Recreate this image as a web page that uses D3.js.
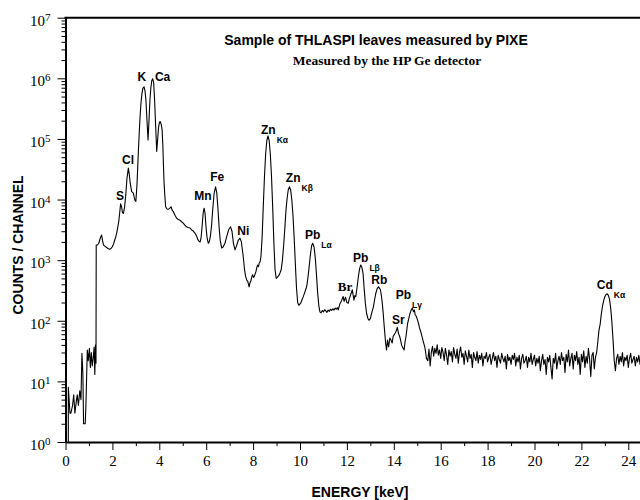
<!DOCTYPE html>
<html>
<head>
<meta charset="utf-8">
<title>THLASPI PIXE spectrum</title>
<script src="https://cdn.jsdelivr.net/npm/d3@7"></script>
<style>
  body { margin: 0; background: #fff; }
  .axis path, .axis line { stroke: #000; }
</style>
</head>
<body>
<svg id="chart" width="640" height="500"></svg>
<script>
// spectrum: [energy keV, counts per channel]
var lowEnergy = [
  [0.12,1],[0.12,8],[0.19,3],[0.23,3],[0.30,4],[0.35,6],[0.40,3],[0.47,5],[0.50,6],[0.55,4],
  [0.61,7],[0.66,5],[0.70,29],[0.74,14],[0.77,2],[0.84,2],[0.87,4],[0.93,33],[0.97,22],[1.02,35],
  [1.06,17],[1.10,30],[1.14,18],[1.18,24],[1.22,37],[1.25,13],[1.28,40],[1.30,20]
];
var mainPeaks = [
  [1.31,1780],[1.36,1780],[1.42,1900],[1.48,2300],[1.54,2600],[1.58,2100],[1.62,1780],[1.68,1700],
  [1.74,1630],[1.81,1560],[1.88,1520],[1.94,1560],[1.99,1650],[2.05,1850],[2.10,2150],[2.14,2400],
  [2.18,2760],[2.23,3500],[2.27,4330],[2.31,6000],[2.35,8500],[2.39,7600],[2.43,6100],[2.47,5900],
  [2.52,7500],[2.57,12000],[2.62,22000],[2.68,33000],[2.72,26000],[2.76,18600],[2.82,13500],[2.89,12900],
  [2.93,11000],[2.96,9800],[3.00,9300],[3.05,18000],[3.11,66000],[3.15,140000],[3.18,234000],[3.22,400000],
  [3.26,560000],[3.30,690000],[3.35,725000],[3.39,620000],[3.43,436000],[3.47,220000],[3.52,96000],[3.56,200000],
  [3.60,436000],[3.64,700000],[3.68,920000],[3.72,980000],[3.76,850000],[3.80,436000],[3.84,180000],[3.89,62000],
  [3.93,100000],[3.97,158000],[4.01,190000],[4.04,193000],[4.08,175000],[4.12,141000],[4.15,80000],[4.17,45000],
  [4.20,20000],[4.23,12600],[4.27,7600],[4.33,7000],[4.39,6900],[4.45,7200],[4.50,7600],[4.55,6700],
  [4.60,6300],[4.67,5500],[4.74,4900],[4.81,4700],[4.88,4570],[4.95,4300],[5.02,4070],[5.09,3800],
  [5.16,3550],[5.23,3450],[5.31,3390],[5.38,3150],[5.45,3020],[5.52,2800],[5.59,2500],[5.64,2200],
  [5.69,2050],[5.74,2000],[5.78,2300],[5.83,3800],[5.87,6000],[5.91,7200],[5.95,6000],[5.99,3600],
  [6.04,2300],[6.09,1900],[6.13,2000],[6.18,2500],[6.23,3800],[6.28,7000],[6.34,12800],[6.40,16200],
  [6.45,13000],[6.50,7200],[6.55,3500],[6.60,2100],[6.66,1585],[6.72,1650],[6.80,1900],[6.88,2500],
  [6.96,3200],[7.04,3550],[7.10,3000],[7.16,1900],[7.23,1480],[7.30,1750],[7.37,2150],[7.44,2300],
  [7.50,2000],[7.54,1500],[7.58,1150],[7.63,720],[7.68,540],[7.73,470],[7.77,450],[7.83,363],
  [7.87,430],[7.90,447],[7.95,540],[7.98,575],[8.02,520],[8.05,537],[8.09,600],[8.12,646],
  [8.16,760],[8.19,830],[8.23,780],[8.26,890],[8.30,950],[8.335,1150],[8.385,2400],[8.435,7900],
  [8.485,24000],[8.535,56500],[8.585,94000],[8.635,112000],[8.685,94000],[8.735,56000],[8.785,24000],[8.835,7500],
  [8.885,2000],[8.935,700],[8.985,500],[9.03,520],[9.10,560],[9.15,620],[9.20,700],[9.25,1000],
  [9.30,1700],[9.35,3200],[9.40,6500],[9.45,10500],[9.50,14500],[9.55,16200],[9.60,14500],[9.65,10000],
  [9.70,5500],[9.75,2400],[9.80,900],[9.85,350],[9.90,200],[9.95,180],[10.03,195],[10.08,220],
  [10.14,250],[10.21,300],[10.26,340],[10.30,400],[10.35,560],[10.40,850],[10.45,1300],[10.50,1750],
  [10.54,1900],[10.60,1650],[10.65,1100],[10.70,600],[10.75,300],[10.80,180],[10.85,140],[10.90,135],
  [10.95,148],[11.00,140],[11.05,152],[11.10,145],[11.15,138],[11.20,150],[11.25,143],[11.30,155],
  [11.35,148],[11.40,158],[11.45,150],[11.50,162],[11.55,155],[11.60,165],[11.63,151],[11.70,190],
  [11.78,219],[11.84,251],[11.88,209],[11.94,245],[12.00,200],[12.06,195],[12.10,230],[12.16,269],
  [12.23,324],[12.30,219],[12.34,260],[12.38,251],[12.45,400],[12.49,537],[12.54,720],[12.59,832],
  [12.64,760],[12.69,600],[12.74,324],[12.79,190],[12.84,132],[12.90,108],[12.94,102],[13.00,108],
  [13.06,135],[13.13,170],[13.18,220],[13.23,282],[13.29,340],[13.35,363],[13.43,324],[13.47,260],
  [13.51,195],[13.55,130],[13.58,91],[13.62,60],[13.65,43],[13.69,33],[13.73,48],[13.78,37],
  [13.83,52],[13.88,48],[13.93,43],[13.97,55],[14.02,59],[14.09,66],[14.15,78],[14.20,62],
  [14.25,55],[14.29,48],[14.33,40],[14.37,37],[14.44,33],[14.48,45],[14.52,55],[14.59,91],
  [14.64,110],[14.69,132],[14.74,150],[14.79,162],[14.84,141],[14.88,150],[14.91,126],[14.96,118],
  [15.03,98],[15.10,76],[15.17,62],[15.24,48],[15.32,37],[15.36,30],[15.39,24]
];
var highEnergy = [
  [15.45,22],[15.50,34],[15.55,18],[15.60,30],[15.65,38],[15.70,26],[15.75,35],[15.80,29],[15.85,40],[15.90,27],
  [15.95,33],[16.00,24],[16.05,36],[16.10,30],[16.15,22],[16.20,35],[16.25,27],[16.30,19],[16.35,33],[16.40,26],
  [16.45,31],[16.50,21],[16.55,36],[16.60,28],[16.65,24],[16.70,34],[16.75,20],[16.80,30],[16.85,37],[16.90,25],
  [16.95,29],[17.00,19],[17.05,32],[17.10,26],[17.15,21],[17.20,33],[17.25,24],[17.30,28],[17.35,17],[17.40,30],
  [17.45,25],[17.50,22],[17.55,31],[17.60,20],[17.65,27],[17.70,23],[17.75,29],[17.80,18],[17.85,26],[17.90,24],
  [17.95,30],[18.00,21],[18.05,25],[18.10,28],[18.15,19],[18.20,24],[18.25,30],[18.30,22],[18.35,26],[18.40,17],
  [18.45,27],[18.50,23],[18.55,20],[18.60,29],[18.65,24],[18.70,21],[18.75,26],[18.80,16],[18.85,28],[18.90,22],
  [18.95,25],[19.00,19],[19.05,27],[19.10,23],[19.15,29],[19.20,18],[19.25,25],[19.30,21],[19.35,27],[19.40,16],
  [19.45,24],[19.50,28],[19.55,20],[19.60,22],[19.65,26],[19.70,17],[19.75,25],[19.80,21],[19.85,29],[19.90,19],
  [19.95,23],[20.00,27],[20.05,18],[20.10,24],[20.15,20],[20.20,26],[20.25,15],[20.30,22],[20.35,28],[20.40,19],
  [20.45,23],[20.50,13],[20.55,25],[20.60,21],[20.65,27],[20.70,17],[20.75,11],[20.80,24],[20.85,20],[20.90,29],
  [20.95,16],[21.00,22],[21.05,26],[21.10,19],[21.15,30],[21.20,22],[21.25,25],[21.30,14],[21.35,28],[21.40,21],
  [21.45,33],[21.50,18],[21.55,24],[21.60,29],[21.65,16],[21.70,27],[21.75,22],[21.80,31],[21.85,19],[21.90,25],
  [21.95,13],[22.00,28],[22.05,21],[22.10,32],[22.15,17],[22.20,26],[22.25,20],[22.30,35],[22.35,23],[22.40,12],
  [22.45,27],[22.50,30],[22.55,16],[22.60,25],
  [22.65,30],[22.70,45],[22.75,70],[22.80,88],[22.85,130],[22.90,175],[22.95,215],[23.00,250],[23.05,272],[23.10,278],
  [23.15,262],[23.20,225],[23.25,160],[23.30,95],[23.35,48],[23.40,22],[23.45,15],
  [23.50,24],[23.55,28],[23.60,19],[23.65,26],[23.70,21],[23.75,30],[23.80,18],[23.85,25],[23.90,22],[23.95,27],
  [24.00,17],[24.05,24],[24.10,29],[24.15,20],[24.20,23],[24.25,26],[24.30,18],[24.35,25],[24.40,21],[24.45,27],
  [24.50,19],[24.55,24],[24.60,22],[24.65,20]
];

var xMajorTicks = [0, 2, 4, 6, 8, 10, 12, 14, 16, 18, 20, 22, 24];
var xMinorTicks = [1, 3, 5, 7, 9, 11, 13, 15, 17, 19, 21, 23];
var yExponents = [0, 1, 2, 3, 4, 5, 6, 7];

// peak labels: element, line subscript, energy and count where the label sits
var labelNames  = ["S", "Cl", "K", "Ca", "Mn", "Fe", "Ni", "Zn", "Zn", "Pb", "Br", "Pb", "Rb", "Sr", "Pb", "Cd"];
var labelSubs   = ["", "", "", "", "", "", "", "Kα", "Kβ", "Lα", "", "Lβ", "", "", "Lγ", "Kα"];
var labelEnergy = [2.32, 2.67, 3.25, 4.14, 5.86, 6.47, 7.58, 8.65, 9.71, 10.54, 11.92, 12.59, 13.38, 14.19, 14.41, 23.0];
var labelCounts = [9700, 38000, 890000, 890000, 10000, 20300, 2600, 122000, 19600, 2200, 310, 940, 410, 89, 225, 330];

var titleText = "Sample of THLASPI leaves measured by PIXE";
var subtitleText = "Measured by the HP Ge detector";
var xTitle = "ENERGY [keV]";
var yTitle = "COUNTS / CHANNEL";

var spectrum = lowEnergy.concat(mainPeaks, highEnergy);

var sans = "'Liberation Sans', Arial, sans-serif";
var serif = "'Liberation Serif', 'Times New Roman', serif";

var plotLeft = 65.5, plotTop = 17.7, plotBottom = 442, plotRight = 651.75;

var svg = d3.select("#chart");
var x = d3.scaleLinear().domain([0, 25]).range([plotLeft, plotRight]);
var y = d3.scaleLog().domain([1, 1e7]).range([plotBottom, plotTop]);

svg.append("defs").append("clipPath").attr("id", "plotclip")
   .append("rect").attr("x", plotLeft).attr("y", plotTop)
   .attr("width", plotRight - plotLeft).attr("height", plotBottom - plotTop);

// minor ticks first, then major axes on top
var yMinor = [];
yExponents.slice(0, -1).forEach(function(e) {
    for (var m = 2; m <= 9; m++) yMinor.push(m * Math.pow(10, e));
});

svg.append("g").attr("class", "axis").attr("transform", "translate(" + plotLeft + ",0)")
   .call(d3.axisLeft(y).tickValues(yMinor).tickSize(4).tickSizeOuter(0).tickFormat(""))
   .call(function(g) { g.select(".domain").remove(); });

svg.append("g").attr("class", "axis").attr("transform", "translate(0," + plotBottom + ")")
   .call(d3.axisBottom(x).tickValues(xMinorTicks).tickSize(4).tickSizeOuter(0).tickFormat(""))
   .call(function(g) { g.select(".domain").remove(); });

var yAxis = svg.append("g").attr("class", "axis").attr("transform", "translate(" + plotLeft + ",0)")
   .call(d3.axisLeft(y).tickValues(yExponents.map(function(e) { return Math.pow(10, e); }))
         .tickSize(8).tickSizeOuter(0).tickPadding(7).tickFormat(""));
yAxis.select(".domain").attr("stroke-width", 2);
yAxis.selectAll(".tick text").each(function(d) {
    var t = d3.select(this);
    t.attr("font-family", serif).attr("font-size", 15).attr("fill", "#000")
     .attr("dy", null).attr("y", 7.5);
    t.append("tspan").text("10");
    t.append("tspan").attr("font-size", 11).attr("dy", -5).text(Math.round(Math.log10(d)));
});

var xAxis = svg.append("g").attr("class", "axis").attr("transform", "translate(0," + plotBottom + ")")
   .call(d3.axisBottom(x).tickValues(xMajorTicks).tickSize(8).tickSizeOuter(0).tickPadding(5)
         .tickFormat(d3.format("d")));
xAxis.select(".domain").attr("stroke-width", 2);
xAxis.selectAll(".tick text").attr("font-family", serif).attr("font-size", 15).attr("fill", "#000");

svg.append("line").attr("x1", plotLeft - 1).attr("x2", plotRight).attr("y1", plotTop).attr("y2", plotTop)
   .attr("stroke", "#000").attr("stroke-width", 2);

// spectrum
var line = d3.line()
    .x(function(d) { return x(d[0]); })
    .y(function(d) { return y(Math.max(1, d[1])); });

svg.append("path").datum(spectrum)
   .attr("clip-path", "url(#plotclip)")
   .attr("d", line)
   .attr("fill", "none")
   .attr("stroke", "#000")
   .attr("stroke-width", 1.1)
   .attr("stroke-linejoin", "round");

// peak labels
labelNames.forEach(function(name, i) {
    var cx = x(labelEnergy[i]), cy = y(labelCounts[i]);
    var t = svg.append("text")
        .attr("x", cx).attr("y", cy)
        .attr("text-anchor", "middle")
        .attr("font-family", name === "Br" ? serif : sans)
        .attr("font-weight", "bold")
        .attr("font-size", name === "Br" ? 13 : 12)
        .text(name);
    if (labelSubs[i]) {
        var w = t.node().getComputedTextLength();
        svg.append("text")
           .attr("x", cx + w / 2 + 1).attr("y", cy + 9)
           .attr("font-family", sans).attr("font-weight", "bold")
           .attr("font-size", 8.5)
           .text(labelSubs[i]);
    }
});

// titles
svg.append("text").attr("x", 376).attr("y", 45).attr("text-anchor", "middle")
   .attr("font-family", sans).attr("font-weight", "bold").attr("font-size", 14)
   .text(titleText);
svg.append("text").attr("x", 387).attr("y", 65).attr("text-anchor", "middle")
   .attr("font-family", serif).attr("font-weight", "bold").attr("font-size", 13.5)
   .text(subtitleText);

svg.append("text").attr("x", 360).attr("y", 497).attr("text-anchor", "middle")
   .attr("font-family", sans).attr("font-weight", "bold").attr("font-size", 14)
   .text(xTitle);
svg.append("text").attr("transform", "translate(23,245) rotate(-90)").attr("text-anchor", "middle")
   .attr("font-family", sans).attr("font-weight", "bold").attr("font-size", 14)
   .text(yTitle);
</script>
</body>
</html>
